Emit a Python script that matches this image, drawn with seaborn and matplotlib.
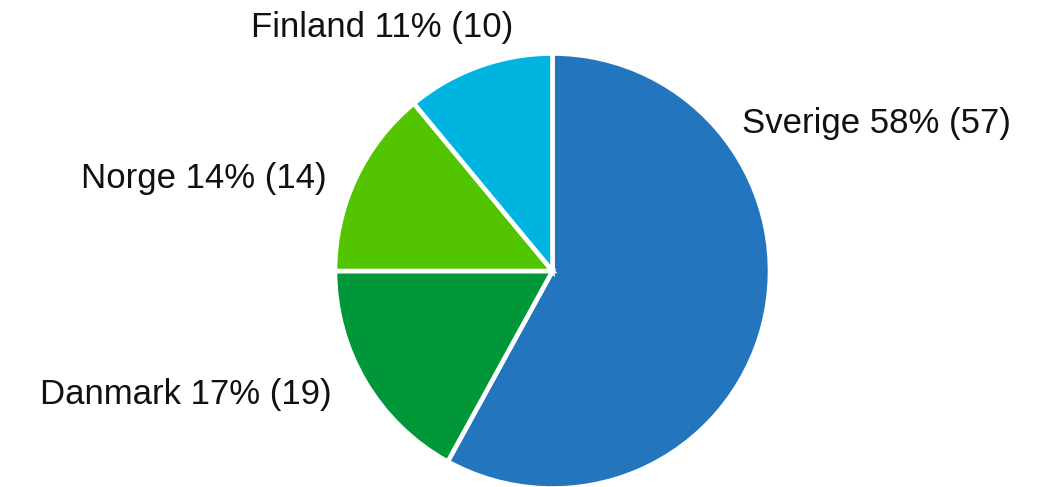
import matplotlib.pyplot as plt
import seaborn as sns

countries = ['Sverige', 'Danmark', 'Norge', 'Finland']
shares = [58, 17, 14, 11]
counts = [57, 19, 14, 10]
colors = ['#2376BE', '#009739', '#52C400', '#00B4E1']

# figure layout in pixels: pie centre, radius, and label anchors (baseline)
W, H = 1056, 487
cx, cy, r_px = 552.5, 271.0, 217.5
label_pos = {
    'Sverige': (741.7, 133.3, 'left'),
    'Danmark': (331.7, 404.0, 'right'),
    'Norge': (326.7, 188.3, 'right'),
    'Finland': (382.5, 37.3, 'center'),
}

sns.set_theme(style='white')
plt.rcParams['font.family'] = ['Liberation Sans', 'DejaVu Sans']

fig = plt.figure(figsize=(W / 100, H / 100), dpi=100)
ax = fig.add_axes([0, 0, 1, 1])

ax.pie(shares, colors=colors, startangle=90, counterclock=False, radius=1,
       wedgeprops=dict(edgecolor='white', linewidth=3.3))
ax.set_xlim(-cx / r_px, (W - cx) / r_px)
ax.set_ylim(-(H - cy) / r_px, cy / r_px)
ax.set_aspect('auto')
ax.axis('off')

for name, pct, n in zip(countries, shares, counts):
    px, py, ha = label_pos[name]
    ax.text((px - cx) / r_px, (cy - py) / r_px, f'{name} {pct}% ({n})',
            ha=ha, va='baseline', fontsize=25, color='#111111')

fig.savefig('out.png', dpi=100)
